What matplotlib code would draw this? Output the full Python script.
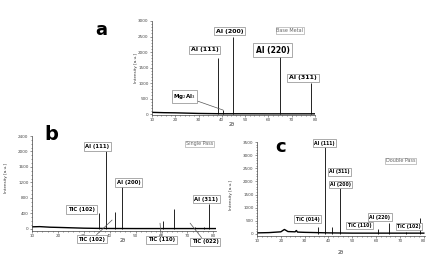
import numpy as np
import matplotlib
matplotlib.use('Agg')
import matplotlib.pyplot as plt

W, H = 431, 254

# ---- data ----
# (a) Base Metal
a_bg_x = [10, 15, 20, 25, 30, 35, 40, 50, 60, 70, 80]
a_bg_y = [55, 45, 40, 30, 20, 15, 10, 10, 8, 8, 8]
a_peak_x = [38.5, 40.6, 44.7, 65.1, 78.2]
a_peak_y = [1800, 120, 2500, 1950, 1000]

# (b) Single Pass
b_bg_x = [10, 13, 17, 20, 25, 30, 35, 40, 50, 60, 70, 81]
b_bg_y = [55, 60, 45, 40, 30, 20, 15, 12, 10, 10, 10, 10]
b_peak_x = [35.9, 38.5, 42.0, 44.7, 60.6, 64.9, 73.0, 76.5, 78.2]
b_peak_y = [420, 2000, 430, 1150, 200, 520, 60, 40, 650]

# (c) Double Pass
c_bg_x = [10, 15, 20, 21.5, 23, 26, 26.5, 27, 30, 35, 40, 50, 60, 70, 80]
c_bg_y = [40, 50, 80, 170, 90, 80, 130, 70, 60, 50, 40, 30, 30, 30, 30]
c_peak_x = [35.5, 38.5, 41.5, 44.7, 60.7, 65.2, 72.5, 78.6]
c_peak_y = [260, 3300, 280, 1750, 190, 420, 60, 600]


def rect(l, r, t, b):
    return [l / W, 1 - b / H, (r - l) / W, (b - t) / H]


def fpos(x, y):
    return (x / W, 1 - y / H)


fig = plt.figure(figsize=(W / 100, H / 100), dpi=100)


def panel(r, bx, by, px, py, xlim, ylim, yticks):
    ax = fig.add_axes(r)
    ax.plot(bx, by, color='black', lw=1.0)
    ax.vlines(px, 0, py, color='black', lw=0.6)
    ax.set_xlim(*xlim)
    ax.set_ylim(*ylim)
    ax.set_xticks(np.arange(10, 81, 10))
    ax.set_yticks(yticks)
    ax.minorticks_on()
    ax.spines['top'].set_visible(False)
    ax.spines['right'].set_visible(False)
    for s in ('left', 'bottom'):
        ax.spines[s].set_linewidth(0.5)
        ax.spines[s].set_color('#444444')
    ax.tick_params(which='both', labelsize=3, length=1.5, width=0.4,
                   colors='#444444', pad=1)
    ax.tick_params(which='minor', length=0.8)
    return ax


ax_a = panel(rect(152, 315, 21, 115), a_bg_x, a_bg_y, a_peak_x, a_peak_y,
             (10, 80), (-30, 3000), np.arange(0, 3001, 500))
ax_b = panel(rect(32, 216, 136, 230.5), b_bg_x, b_bg_y, b_peak_x, b_peak_y,
             (10, 81), (-40, 2400), np.arange(0, 2401, 400))
ax_c = panel(rect(257, 425, 142, 235.5), c_bg_x, c_bg_y, c_peak_x, c_peak_y,
             (10, 80.5), (-60, 3500), np.arange(0, 3501, 500))

box = dict(boxstyle='square,pad=0.3', fc='white', ec='#888888', lw=0.5)
gbox = dict(boxstyle='square,pad=0.2', fc='white', ec='#999999', lw=0.4)


def lbl(x, y, s, fs, ax=None, xy=None):
    if xy is None:
        fig.text(*fpos(x, y), s, fontsize=fs, weight='bold', ha='center',
                 va='center', bbox=box)
    else:
        ax.annotate(s, xy=xy, xycoords='data', xytext=fpos(x, y),
                    textcoords='figure fraction', fontsize=fs, weight='bold',
                    ha='center', va='center', bbox=box,
                    arrowprops=dict(arrowstyle='-', color='#555555', lw=0.5,
                                    shrinkA=0, shrinkB=0))


def tag(x, y, s, fs):
    fig.text(*fpos(x, y), s, fontsize=fs, color='#666666', ha='center',
             va='center', bbox=gbox)


# panel a labels
lbl(229.5, 31, 'Al (200)', 4.5)
lbl(204.5, 50, 'Al (111)', 4.5)
lbl(272.5, 50, 'Al (220)', 5.5)
lbl(303, 78, 'Al (311)', 4.5)
lbl(184.5, 96.5, r'Mg$_2$Al$_3$', 4, ax_a, (40.5, 130))
tag(290, 30.5, 'Base Metal', 3.5)
fig.text(*fpos(101, 30), 'a', fontsize=13, weight='bold', ha='center', va='center')
fig.text(*fpos(136, 68), 'Intensity [a.u.]', fontsize=3, rotation=90,
         ha='center', va='center', color='#333333')
fig.text(*fpos(232, 125), '2θ', fontsize=3.5, ha='center', va='center', color='#333333')

# panel b labels
lbl(97.5, 146.5, 'Al (111)', 3.8)
lbl(128.5, 182.5, 'Al (200)', 3.8)
lbl(81.5, 209.5, 'TiC (102)', 3.8)
lbl(206.5, 199, 'Al (311)', 3.8)
lbl(92, 239, 'TiC (102)', 3.8, ax_b, (40.9, 230))
lbl(161.5, 240, 'TiC (110)', 3.8, ax_b, (59.4, 150))
lbl(205, 242, 'TiC (022)', 3.8, ax_b, (71, 150))
tag(199.5, 144, 'Single Pass', 3.5)
fig.text(*fpos(51, 134), 'b', fontsize=14, weight='bold', ha='center', va='center')
fig.text(*fpos(6, 178), 'Intensity [a.u.]', fontsize=3, rotation=90,
         ha='center', va='center', color='#333333')
fig.text(*fpos(123, 240), '2θ', fontsize=3.5, ha='center', va='center', color='#333333')

# panel c labels
lbl(324.5, 143, 'Al (111)', 3.3)
lbl(339.5, 172, 'Al (311)', 3.3)
lbl(340.5, 184.5, 'Al (200)', 3.3)
lbl(307.5, 219, 'TiC (014)', 3.3)
lbl(359.5, 225.5, 'TiC (110)', 3.3)
lbl(380, 217, 'Al (220)', 3.3)
lbl(409, 226.5, 'TiC (102)', 3.3)
tag(400.5, 161, 'Double Pass', 3.5)
fig.text(*fpos(281, 147), 'c', fontsize=13, weight='bold', ha='center', va='center')
fig.text(*fpos(231, 195), 'Intensity [a.u.]', fontsize=3, rotation=90,
         ha='center', va='center', color='#333333')
fig.text(*fpos(341, 253), '2θ', fontsize=3.5, ha='center', va='center', color='#333333')

fig.savefig('out.png', dpi=100)
